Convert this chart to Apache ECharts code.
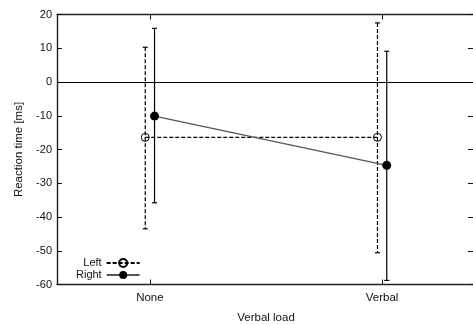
<!DOCTYPE html>
<html>
<head>
<meta charset="utf-8">
<script src="https://cdn.jsdelivr.net/npm/echarts@6/dist/echarts.min.js"></script>
<style>
  html, body { margin: 0; padding: 0; background: #fff; }
  #main { width: 473px; height: 325px; }
</style>
</head>
<body>
<div id="main"></div>
<script>
// categories on the x axis and where they sit on the numeric x scale
var categories = ['None', 'Verbal'];
var catPos = [1, 2];

// Left condition: mean and error bar ends
var leftMean = [-16.4, -16.4];
var leftLow = [-43.5, -50.6];
var leftHigh = [10.3, 17.5];

// Right condition
var rightMean = [-10.1, -24.7];
var rightLow = [-35.8, -58.8];
var rightHigh = [15.9, 9.1];

var yMin = -60, yMax = 20, yStep = 10;

var font = 'Liberation Sans, Arial, sans-serif';
var ink = '#111';
var shift = 0.02; // small horizontal offset so the two series don't overlap

function pts(mean, dx) {
  return catPos.map(function (p, i) { return [p + dx, mean[i]]; });
}
function bars(low, high, dx) {
  return catPos.map(function (p, i) { return [p + dx, low[i], high[i]]; });
}

// error bars drawn through the axes' own coordinate mapping
function errorBar(dash) {
  return function (params, api) {
    var x = api.value(0);
    var lo = api.coord([x, api.value(1)]);
    var hi = api.coord([x, api.value(2)]);
    var w = 2.5;
    var st = { stroke: '#000', lineWidth: 1.2, lineDash: dash };
    var cap = { stroke: '#000', lineWidth: 1.2 };
    return {
      type: 'group',
      children: [
        { type: 'line', shape: { x1: hi[0], y1: hi[1], x2: lo[0], y2: lo[1] }, style: st },
        { type: 'line', shape: { x1: hi[0] - w, y1: hi[1], x2: hi[0] + w, y2: hi[1] }, style: cap },
        { type: 'line', shape: { x1: lo[0] - w, y1: lo[1], x2: lo[0] + w, y2: lo[1] }, style: cap }
      ]
    };
  };
}

var xLabel = function (v) {
  var i = catPos.indexOf(Math.round(v * 1000) / 1000);
  return i >= 0 ? categories[i] : '';
};

var baseX = {
  type: 'value',
  min: 0.6,
  max: 2.4,
  splitLine: { show: false },
  axisLine: { show: true, onZero: false, lineStyle: { color: '#222', width: 1.4 } },
  axisTick: { show: true, inside: true, length: 5, customValues: catPos, lineStyle: { color: ink } }
};
var baseY = {
  type: 'value',
  min: yMin,
  max: yMax,
  interval: yStep,
  splitLine: { show: false },
  axisLine: { show: true, onZero: false, lineStyle: { color: '#222', width: 1.4 } },
  axisTick: { show: true, inside: true, length: 5, lineStyle: { color: ink } }
};

var option = {
  backgroundColor: '#fff',
  animation: false,
  grid: { left: 57, top: 14.5, width: 418, bottom: 40.5, containLabel: false, outerBoundsMode: 'none' },
  legend: {
    data: ['Left', 'Right'],
    orient: 'vertical',
    align: 'right',
    left: 74,
    top: 255,
    padding: 2,
    itemWidth: 33,
    itemHeight: 10,
    itemGap: 0,
    textStyle: { fontFamily: font, fontSize: 11, color: ink, lineHeight: 12 },
    selectedMode: false
  },
  xAxis: [
    Object.assign({}, baseX, {
      position: 'bottom',
      name: 'Verbal load',
      nameLocation: 'middle',
      nameGap: 27,
      nameTextStyle: { fontFamily: font, fontSize: 11.5, color: ink },
      axisLabel: { show: true, customValues: catPos, formatter: xLabel, margin: 7,
        fontFamily: font, fontSize: 11.5, color: ink }
    }),
    Object.assign({}, baseX, { position: 'top', axisLabel: { show: false } })
  ],
  yAxis: [
    Object.assign({}, baseY, {
      position: 'left',
      name: 'Reaction time [ms]',
      nameLocation: 'middle',
      nameGap: 30,
      nameTextStyle: { fontFamily: font, fontSize: 11.5, color: ink },
      axisLabel: { show: true, margin: 5, fontFamily: font, fontSize: 11, color: ink }
    }),
    Object.assign({}, baseY, { position: 'right', axisLabel: { show: false },
      axisTick: { show: true, inside: true, length: 7, lineStyle: { color: ink } } })
  ],
  series: [
    {
      name: 'Left bars',
      type: 'custom',
      renderItem: errorBar([4, 2]),
      encode: { x: 0, y: [1, 2] },
      data: bars(leftLow, leftHigh, -shift),
      z: 2
    },
    {
      name: 'Right bars',
      type: 'custom',
      renderItem: errorBar(null),
      encode: { x: 0, y: [1, 2] },
      data: bars(rightLow, rightHigh, shift),
      z: 2
    },
    {
      name: 'Left',
      type: 'line',
      data: pts(leftMean, -shift),
      symbol: 'circle',
      symbolSize: 8,
      lineStyle: { color: '#000', width: 1.2, type: [4, 2] },
      itemStyle: { color: 'rgba(0,0,0,0)', borderColor: '#000', borderWidth: 1 },
      z: 3,
      markLine: {
        silent: true,
        symbol: 'none',
        label: { show: false },
        lineStyle: { color: '#000', width: 1.2, type: 'solid' },
        data: [{ yAxis: 0 }]
      }
    },
    {
      name: 'Right',
      type: 'line',
      data: pts(rightMean, shift),
      symbol: 'circle',
      symbolSize: 9,
      lineStyle: { color: '#555', width: 1.2 },
      itemStyle: { color: '#000', borderColor: '#000', borderWidth: 0 },
      z: 4
    }
  ]
};

var chart = echarts.init(document.getElementById('main'), null, { renderer: 'canvas' });
chart.setOption(option);
</script>
</body>
</html>
